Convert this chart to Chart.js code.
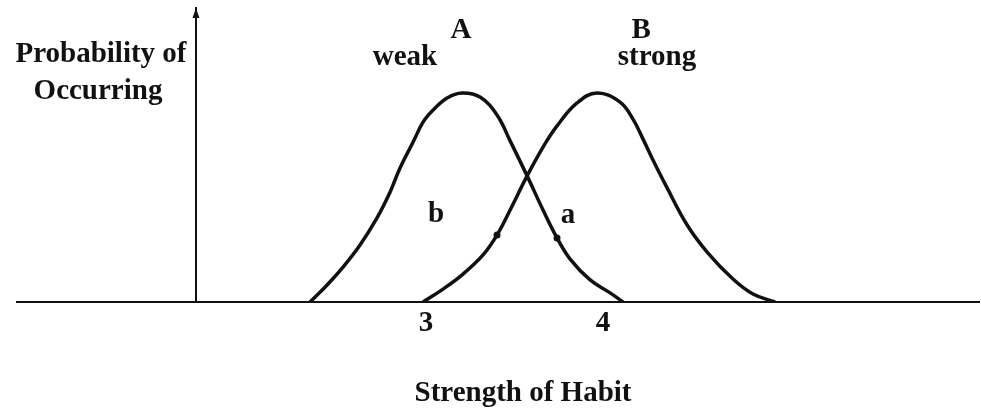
<!DOCTYPE html>
<html>
<head>
<meta charset="utf-8">
<title>Strength of Habit</title>
<script src="https://cdn.jsdelivr.net/npm/chart.js@4.4.0/dist/chart.umd.min.js"></script>
<style>
  html, body { margin: 0; padding: 0; background: #fff; }
  #wrap { width: 981px; height: 416px; }
</style>
</head>
<body>
<div id="wrap"><canvas id="chart"></canvas></div>
<script>
// --- DATA ---
// curve A (weak habit)
const weakX = [2.345, 2.441, 2.531, 2.627, 2.723, 2.797, 2.853, 2.927, 2.983, 3.040, 3.119, 3.203,
               3.305, 3.401, 3.475, 3.571, 3.661, 3.740, 3.814, 3.927, 4.040, 4.113];
const weakY = [0, 0.058, 0.119, 0.194, 0.286, 0.374, 0.456, 0.544, 0.612, 0.653, 0.694, 0.711,
               0.697, 0.636, 0.548, 0.429, 0.313, 0.218, 0.146, 0.075, 0.031, 0];
// curve B (strong habit)
const strongX = [2.983, 3.096, 3.209, 3.322, 3.401, 3.475, 3.571, 3.661, 3.740, 3.853, 3.966,
                 4.096, 4.169, 4.226, 4.282, 4.362, 4.475, 4.588, 4.734, 4.847, 4.972];
const strongY = [0, 0.044, 0.095, 0.160, 0.228, 0.313, 0.429, 0.527, 0.599, 0.677, 0.711,
                 0.680, 0.622, 0.554, 0.483, 0.388, 0.262, 0.170, 0.078, 0.027, 0];
// small direction marks on each curve
const weakMarkIndex = 17;
const strongMarkIndex = 4;

const xTicks = [3, 4];
const xTickLabels = ["3", "4"];
const xMin = 0.689;
const xMax = 6.124;
const yAxisAt = 1.70;

// --- STYLE ---
const INK = "#111";
const FONT = '"Liberation Serif", "Times New Roman", serif';
const TEXT_SIZE = 29;

// notes placed in data coordinates
const curveNotes = [
  { text: "A", x: 3.198, y: 0.898 },
  { text: "B", x: 4.215, y: 0.898 },
  { text: "weak", x: 2.881, y: 0.806 },
  { text: "strong", x: 4.305, y: 0.806 },
  { text: "b", x: 3.056, y: 0.272 },
  { text: "a", x: 3.802, y: 0.269 }
];

function toPoints(xs, ys) {
  return xs.map((x, i) => ({ x: x, y: ys[i] }));
}

function curve(xs, ys, markIdx) {
  return {
    data: toPoints(xs, ys),
    borderColor: INK,
    backgroundColor: INK,
    borderWidth: 3.5,
    tension: 0.4,
    pointRadius: (ctx) => (ctx.dataIndex === markIdx ? 3.5 : 0),
    pointBorderWidth: 0,
    fill: false
  };
}

const textPlugin = {
  id: "habitText",
  afterDraw(chart) {
    const { ctx, scales, chartArea } = chart;
    ctx.save();
    ctx.fillStyle = INK;
    ctx.font = `700 ${TEXT_SIZE}px ${FONT}`;
    ctx.textAlign = "center";
    ctx.textBaseline = "alphabetic";

    curveNotes.forEach((n) => {
      ctx.fillText(n.text, scales.x.getPixelForValue(n.x), scales.y.getPixelForValue(n.y));
    });

    // vertical axis title, set horizontally left of the axis
    ctx.fillText("Probability of", 101, 62);
    ctx.fillText("Occurring", 98, 99);

    // horizontal axis title
    ctx.fillText("Strength of Habit", 523, 401);

    // arrow head on the vertical axis
    const ax = scales.x.getPixelForValue(yAxisAt);
    const top = chartArea.top;
    ctx.beginPath();
    ctx.moveTo(ax, top);
    ctx.lineTo(ax - 3.5, top + 10);
    ctx.lineTo(ax + 3.5, top + 10);
    ctx.closePath();
    ctx.fill();
    ctx.restore();
  }
};

new Chart(document.getElementById("chart"), {
  type: "line",
  data: {
    datasets: [
      curve(weakX, weakY, weakMarkIndex),
      curve(strongX, strongY, strongMarkIndex)
    ]
  },
  options: {
    responsive: true,
    maintainAspectRatio: false,
    animation: false,
    layout: { padding: { left: 17, right: 2, top: 8, bottom: 0 } },
    plugins: {
      legend: { display: false },
      tooltip: { enabled: false }
    },
    scales: {
      x: {
        type: "linear",
        position: "bottom",
        min: xMin,
        max: xMax,
        afterBuildTicks: (scale) => {
          scale.ticks = xTicks.map((v) => ({ value: v }));
        },
        afterFit: (scale) => {
          scale.height = 114;
        },
        ticks: {
          callback: (v) => xTickLabels[xTicks.indexOf(v)],
          color: INK,
          font: { family: FONT, size: TEXT_SIZE, weight: "bold" },
          padding: 4,
          maxRotation: 0,
          autoSkip: false
        },
        grid: { display: false, drawTicks: false },
        border: { display: true, color: INK, width: 2 }
      },
      y: {
        min: 0,
        max: 1,
        position: { x: yAxisAt },
        ticks: { display: false },
        grid: { display: false, drawTicks: false },
        border: { display: true, color: INK, width: 2 }
      }
    }
  },
  plugins: [textPlugin]
});
</script>
</body>
</html>
